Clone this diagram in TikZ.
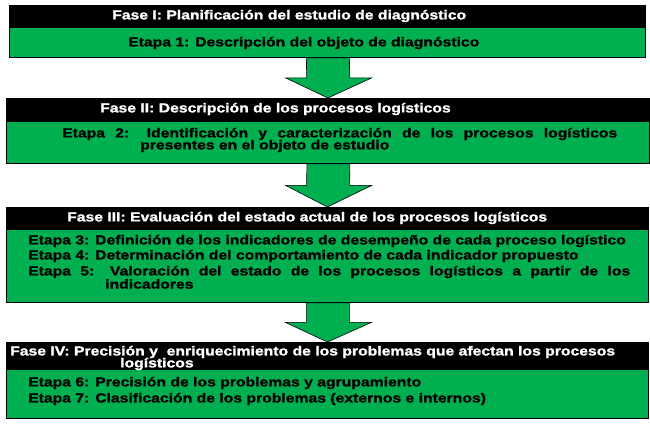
\documentclass[tikz,border=0pt]{standalone}
\usepackage{fontspec}
\setmainfont{Liberation Sans}[FakeStretch=1.21,FakeBold=1.5]
\usetikzlibrary{calc}
\definecolor{gr}{HTML}{00B050}
\begin{document}
\begin{tikzpicture}[x=1pt,y=-1pt,font=\bfseries\fontsize{13}{14}\selectfont,
  body/.style={fill=gr,draw=black,line width=0.8pt},
  head/.style={fill=black},
  htxt/.style={text=white,anchor=west,inner sep=0},
  btxt/.style={text=black,anchor=west,inner sep=0},
  arr/.style={fill=gr,draw=black,line width=0.6pt}]
\useasboundingbox (0,0) rectangle (650,423);
% boxes
\node[body,anchor=north west,minimum width=636,minimum height=52,inner sep=0] (b1) at (9,5) {};
\fill[head] (b1.north west) rectangle ($(b1.north east)+(0,23)$);
\node[body,anchor=north west,minimum width=643,minimum height=65,inner sep=0] (b2) at (6,98) {};
\fill[head] (b2.north west) rectangle ($(b2.north east)+(0,24)$);
\node[body,anchor=north west,minimum width=642,minimum height=95,inner sep=0] (b3) at (6,207) {};
\fill[head] (b3.north west) rectangle ($(b3.north east)+(0,23)$);
\node[body,anchor=north west,minimum width=642,minimum height=76,inner sep=0] (b4) at (6,342) {};
\fill[head] (b4.north west) rectangle ($(b4.north east)+(0,28)$);
% arrows
\foreach \a/\b in {b1/b2,b2/b3,b3/b4}{
  \path (\a.south) coordinate (s) (\b.north) coordinate (t);
  \draw[arr] ($(s)+(-21,0)$) -- ($(s)+(22,0)$) -- ($(s)!0.5!(t)+(22,0)$) -- ($(s)!0.5!(t)+(44,0)$)
    -- (t) -- ($(s)!0.5!(t)+(-42,0)$) -- ($(s)!0.5!(t)+(-21,0)$) -- cycle;
}
% texts
\node[htxt] (h1) at (112,16) {Fase I: Planificación del estudio de diagnóstico};
\node[btxt] (e1) at (128,43) {Etapa 1: Descripción del objeto de diagnóstico};
\node[htxt] (h2) at (100,109) {Fase II: Descripción de los procesos logísticos};
\node[btxt] (e2a) at (62,134) {\makebox[555pt][s]{Etapa 2: Identificación y caracterización de los procesos logísticos}};
\node[btxt] (e2b) at (140,146) {presentes en el objeto de estudio};
\node[htxt] (h3) at (67,218) {Fase III: Evaluación del estado actual de los procesos logísticos};
\node[btxt] (e3) at (28,241) {Etapa 3: Definición de los indicadores de desempeño de cada proceso logístico};
\node[btxt] (e4) at (28,256) {Etapa 4: Determinación del comportamiento de cada indicador propuesto};
\node[btxt] (e5a) at (28,272) {\makebox[602pt][s]{Etapa 5: Valoración del estado de los procesos logísticos a partir de los}};
\node[btxt] (e5b) at (105,284) {indicadores};
\node[htxt] (h4) at (10,352) {Fase IV: Precisión y \ enriquecimiento de los problemas que afectan los procesos};
\node[htxt] (h4b) at (120,364) {logísticos};
\node[btxt] (e6) at (28,383) {Etapa 6: Precisión de los problemas y agrupamiento};
\node[btxt] (e7) at (28,399) {Etapa 7: Clasificación de los problemas (externos e internos)};
\end{tikzpicture}
\end{document}
